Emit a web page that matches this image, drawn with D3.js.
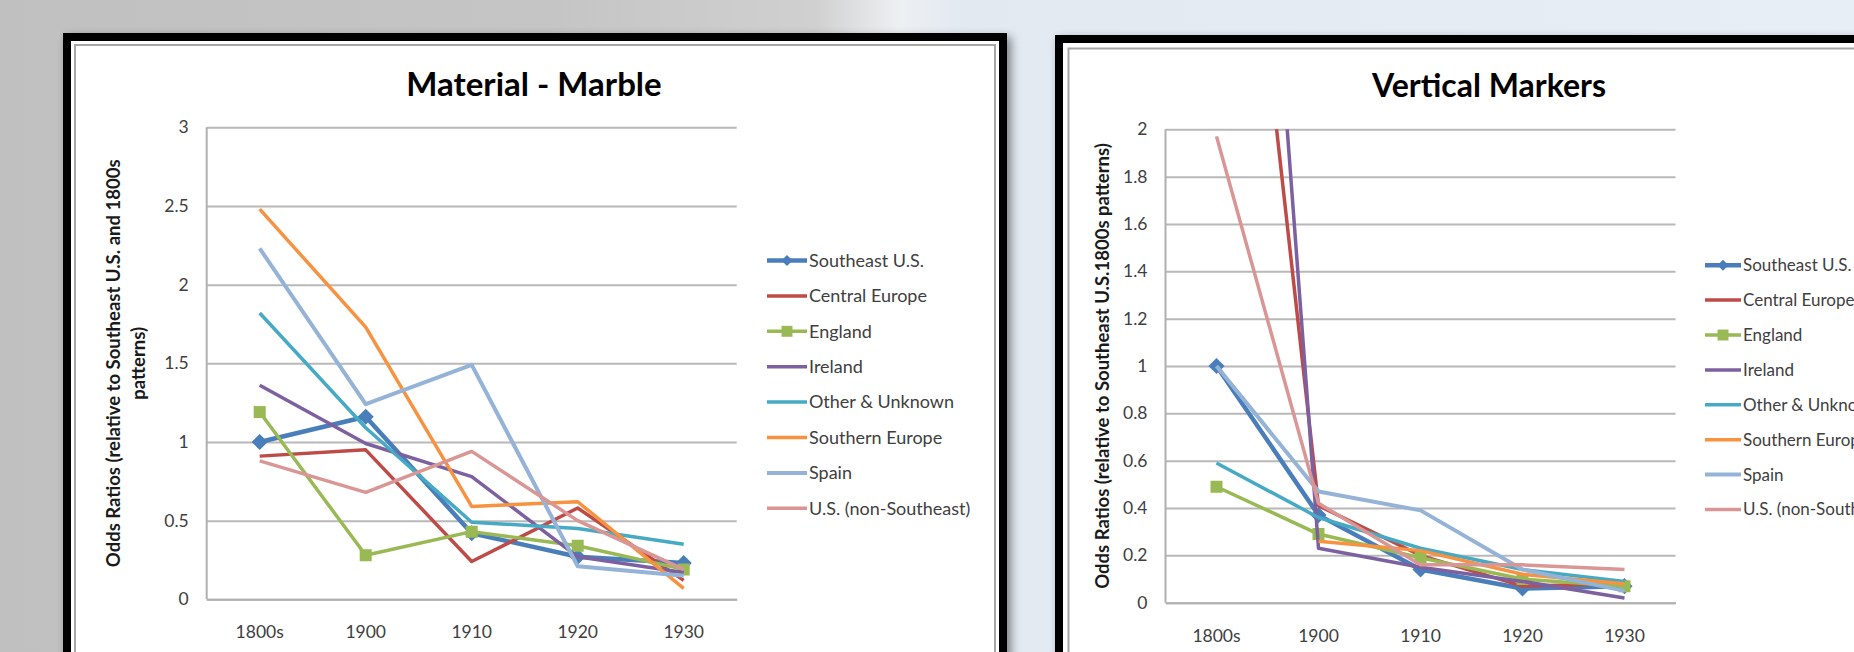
<!DOCTYPE html>
<html>
  <head>
    <title>Odds ratios - Material Marble / Vertical Markers</title>
    <script src="https://cdn.jsdelivr.net/npm/d3@7"></script>
    <style>
      body { margin: 0; overflow: hidden; }
      svg { display: block; }
    </style>
  </head>
  <body>
    <svg width="1854" height="652"></svg>

    <script type="text/javascript">
      var categories = ["1800s", "1900", "1910", "1920", "1930"];
      var seriesNames = [
        "Southeast U.S.",
        "Central Europe",
        "England",
        "Ireland",
        "Other & Unknown",
        "Southern Europe",
        "Spain",
        "U.S. (non-Southeast)"
      ];

      // Material - Marble
      var marbleValues = [
        [1.0, 1.16, 0.42, 0.27, 0.23],
        [0.91, 0.95, 0.24, 0.58, 0.12],
        [1.19, 0.28, 0.43, 0.34, 0.19],
        [1.36, 0.99, 0.78, 0.27, 0.17],
        [1.82, 1.09, 0.49, 0.45, 0.35],
        [2.48, 1.73, 0.59, 0.62, 0.07],
        [2.23, 1.24, 1.49, 0.21, 0.15],
        [0.88, 0.68, 0.94, 0.5, 0.19]
      ];
      var marbleTicks = [0, 0.5, 1, 1.5, 2, 2.5, 3];

      // Vertical Markers (some 1800s values run off the top of the axis)
      var verticalValues = [
        [1.0, 0.37, 0.14, 0.06, 0.07],
        [4.28, 0.41, 0.2, 0.07, 0.08],
        [0.49, 0.29, 0.19, 0.1, 0.07],
        [6.0, 0.23, 0.15, 0.09, 0.02],
        [0.59, 0.36, 0.23, 0.14, 0.09],
        [null, 0.26, 0.22, 0.12, 0.08],
        [1.0, 0.47, 0.39, 0.14, 0.05],
        [1.97, 0.42, 0.16, 0.16, 0.14]
      ];
      var verticalTicks = [0, 0.2, 0.4, 0.6, 0.8, 1, 1.2, 1.4, 1.6, 1.8, 2];

      var colors = ["#4a7ebb", "#be4b48", "#98b954", "#7d60a0", "#46aac5", "#f69240", "#94b3d6", "#d99694"];
      var widths = [4.5, 3.5, 3.5, 3.5, 3.5, 3.5, 4, 3.5];
      var markers = ["diamond", null, "square", null, null, null, null, null];

      var font = "Lato, 'Open Sans', sans-serif";
      var svg = d3.select("svg");

      // background photo (blurred grey / pale blue)
      var defs = svg.append("defs");
      var bg = defs.append("linearGradient").attr("id", "bg");
      [["0%", "#c0c0c0"], ["30%", "#c5c5c5"], ["44%", "#d0d0d0"], ["48.5%", "#edf0f3"], ["52%", "#e2e9f1"], ["100%", "#e8eef6"]]
        .forEach(function (s) {
          bg.append("stop").attr("offset", s[0]).attr("stop-color", s[1]);
        });
      var blur = defs.append("filter").attr("id", "shadow").attr("x", "-10%").attr("width", "130%");
      blur.append("feGaussianBlur").attr("stdDeviation", 5);

      svg.append("rect").attr("width", 1854).attr("height", 652).attr("fill", "url(#bg)");

      function panel(x, y, w, h, inset) {
        var g = svg.append("g");
        g.append("rect")
          .attr("x", x + 4).attr("y", y + 4).attr("width", w).attr("height", h)
          .attr("fill", "#000").attr("opacity", 0.45)
          .attr("filter", "url(#shadow)");
        g.append("rect").attr("x", x).attr("y", y).attr("width", w).attr("height", h).attr("fill", "#000");
        g.append("rect").attr("x", x + 8).attr("y", y + 8).attr("width", w - 16).attr("height", h - 16).attr("fill", "#fff");
        g.append("rect")
          .attr("x", x + 8 + inset).attr("y", y + 8 + inset)
          .attr("width", w - 16 - 2 * inset).attr("height", h - 16 - 2 * inset)
          .attr("fill", "none").attr("stroke", "#a6a6a6").attr("stroke-width", 2);
      }

      panel(63, 33, 944, 700, 4);
      panel(1055, 35, 944, 700, 5.5);

      function drawChart(c) {
        var g = svg.append("g");

        var x = d3.scaleBand().domain(categories).range([c.x0, c.x1]);
        var y = d3.scaleLinear().domain([0, c.max]).range([c.yBot, c.yTop]);
        var cx = function (i) { return x(categories[i]) + x.bandwidth() / 2; };

        var yAxis = d3.axisLeft(y)
          .tickValues(c.ticks)
          .tickSize(-(c.x1 - c.x0))
          .tickPadding(18)
          .tickFormat(d3.format(""));
        var ya = g.append("g").attr("transform", "translate(" + c.x0 + ",0)").call(yAxis);
        ya.select(".domain").remove();
        ya.selectAll("line").attr("stroke", "#b8b8b8").attr("stroke-width", 2);
        ya.selectAll("text").attr("font-family", font).attr("font-size", 17.5).attr("fill", "#404040");

        g.append("line")
          .attr("x1", c.x0).attr("x2", c.x0).attr("y1", c.yTop).attr("y2", c.yBot)
          .attr("stroke", "#b0b0b0").attr("stroke-width", 2);

        var xAxis = d3.axisBottom(x).tickSize(0).tickPadding(c.xPad);
        var xa = g.append("g").attr("transform", "translate(0," + c.yBot + ")").call(xAxis);
        xa.select(".domain").attr("stroke", "#b0b0b0").attr("stroke-width", 2);
        xa.selectAll("text").attr("font-family", font).attr("font-size", 17.5).attr("fill", "#404040");

        // title
        g.append("text")
          .attr("x", c.titleX).attr("y", c.titleY)
          .attr("text-anchor", "middle")
          .attr("font-family", font).attr("font-weight", "bold").attr("font-size", c.titleSize)
          .attr("fill", "#000")
          .text(c.title);

        // y axis title
        c.yTitle.forEach(function (t, i) {
          g.append("text")
            .attr("transform", "translate(" + c.yTitleX[i] + "," + c.yTitleY + ") rotate(-90)")
            .attr("text-anchor", "middle")
            .attr("dy", "0.35em")
            .attr("font-family", font).attr("font-weight", "bold").attr("font-size", 18.5)
            .attr("fill", "#1a1a1a")
            .text(t);
        });

        var clipId = "clip" + c.id;
        defs.append("clipPath").attr("id", clipId)
          .append("rect")
          .attr("x", c.x0).attr("y", c.yTop)
          .attr("width", c.x1 - c.x0).attr("height", c.yBot - c.yTop);

        var line = d3.line()
          .defined(function (d) { return d !== null; })
          .x(function (d, i) { return cx(i); })
          .y(function (d) { return y(d); });

        var plot = g.append("g").attr("clip-path", "url(#" + clipId + ")");

        c.values.forEach(function (vals, s) {
          plot.append("path")
            .datum(vals)
            .attr("d", line)
            .attr("fill", "none")
            .attr("stroke", colors[s])
            .attr("stroke-width", widths[s])
            .attr("stroke-linejoin", "round");

          if (markers[s]) {
            var sym = markers[s] === "diamond" ? d3.symbol(d3.symbolSquare, 130) : d3.symbol(d3.symbolSquare, 144);
            plot.selectAll(".m" + s)
              .data(vals.filter(function (d) { return d !== null; }).map(function (d, i) { return [i, d]; }))
              .enter()
              .append("path")
              .attr("d", sym)
              .attr("transform", function (d) {
                return "translate(" + cx(d[0]) + "," + y(d[1]) + ")" + (markers[s] === "diamond" ? " rotate(45)" : "");
              })
              .attr("fill", colors[s]);
          }
        });

        // legend
        var lg = g.append("g");
        seriesNames.forEach(function (name, s) {
          var ly = c.legY + s * c.legStep;
          lg.append("line")
            .attr("x1", c.legX).attr("x2", c.legX + c.legLen)
            .attr("y1", ly).attr("y2", ly)
            .attr("stroke", colors[s]).attr("stroke-width", widths[s]);
          if (markers[s]) {
            var ms = markers[s] === "diamond" ? d3.symbol(d3.symbolSquare, 60) : d3.symbol(d3.symbolSquare, 120);
            lg.append("path")
              .attr("d", ms)
              .attr("transform", "translate(" + (c.legX + c.legLen / 2) + "," + ly + ")" + (markers[s] === "diamond" ? " rotate(45)" : ""))
              .attr("fill", colors[s]);
          }
          lg.append("text")
            .attr("x", c.legX + c.legLen + 2).attr("y", ly)
            .attr("dy", "0.35em")
            .attr("font-family", font).attr("font-size", c.legSize)
            .attr("fill", "#404040")
            .text(name);
        });
      }

      drawChart({
        id: "marble",
        title: "Material - Marble",
        titleX: 534, titleY: 96, titleSize: 33,
        x0: 206.7, x1: 736.7, yTop: 127.3, yBot: 599.3,
        max: 3, ticks: marbleTicks, values: marbleValues,
        xPad: 26,
        yTitle: ["Odds Ratios (relative to Southeast U.S. and 1800s", "patterns)"],
        yTitleX: [114, 138.3], yTitleY: 363.3,
        legX: 767, legLen: 40, legY: 260.5, legStep: 35.4, legSize: 18
      });

      drawChart({
        id: "vertical",
        title: "Vertical Markers",
        titleX: 1489, titleY: 97, titleSize: 32,
        x0: 1165.5, x1: 1675.5, yTop: 129.3, yBot: 602.7,
        max: 2, ticks: verticalTicks, values: verticalValues,
        xPad: 27,
        yTitle: ["Odds Ratios (relative to Southeast U.S.1800s patterns)"],
        yTitleX: [1102.5], yTitleY: 366,
        legX: 1705, legLen: 36, legY: 265.2, legStep: 34.9, legSize: 17
      });
    </script>
  </body>
</html>
